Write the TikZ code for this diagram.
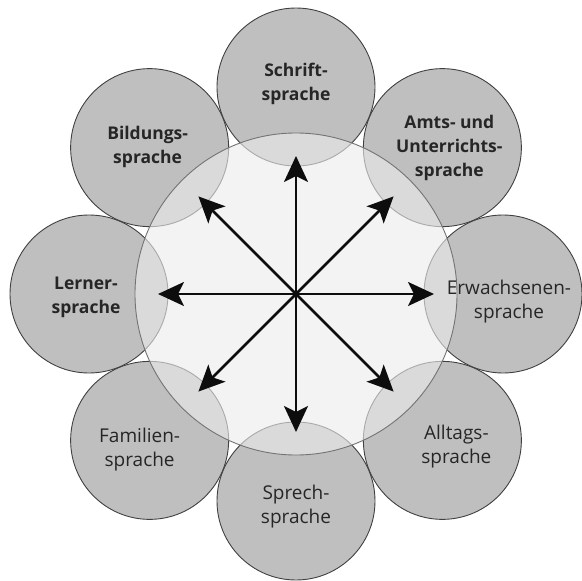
\documentclass[tikz,border=0pt]{standalone}
\usepackage{fontspec}
\setmainfont{Open Sans}
\usetikzlibrary{arrows.meta,calc}
\begin{document}
\begin{tikzpicture}[x=1pt,y=-1pt,
  outer/.style={circle,minimum size=158pt,inner sep=0pt,fill=black!25,draw=black!75,line width=0.9pt},
  inner/.style={circle,minimum size=322pt,inner sep=0pt,fill=black!8,fill opacity=0.62,draw=black!55,line width=0.9pt,draw opacity=1},
  lbl/.style={align=center,font=\fontsize{19}{24}\selectfont,text=black!85},
  blbl/.style={lbl,font=\fontsize{17.5}{24}\selectfont\bfseries},
  arr/.style={-{Stealth[length=26pt,width=24pt,inset=6pt]},line width=2.6pt,black!95}]
\useasboundingbox (0,0) rectangle (582,581);
\coordinate (m) at (296,294);
\foreach \a/\n in {90/o1,45/o2,0/o3,-45/o4,-90/o5,-135/o6,180/o7,135/o8}{
  \node[outer] (\n) at ($(m)+(\a:207pt)$) {};
}
\node[inner] (c) at (m) {};
% labels
\node[blbl] (t1) at ($(o1.center)+(0,-3)$) {Schrift-\\sprache};
\node[blbl] (t2) at ($(o2.center)+(7,0)$) {Amts- und\\Unterrichts-\\sprache};
\node[lbl] (t3) at ($(o3.center)+(6,8)$) {Erwachsenen-\\sprache};
\node[lbl] (t4) at ($(o4.center)+(14,6)$) {Alltags-\\sprache};
\node[lbl] (t5) at ($(o5.center)+(0,6)$) {Sprech-\\sprache};
\node[lbl] (t6) at ($(o6.center)+(-10,9)$) {Familien-\\sprache};
\node[blbl] (t7) at ($(o7.center)+(-3,3)$) {Lerner-\\sprache};
\node[blbl] (t8) at ($(o8.center)+(-2,-1)$) {Bildungs-\\sprache};
% arrows
\foreach \a/\n in {90/p1,45/p2,0/p3,-45/p4,-90/p5,-135/p6,180/p7,135/p8}{
  \coordinate (\n) at ($(m)+(\a:138pt)$);
  \draw[arr] (c.center) -- (\n);
}
\end{tikzpicture}
\end{document}
